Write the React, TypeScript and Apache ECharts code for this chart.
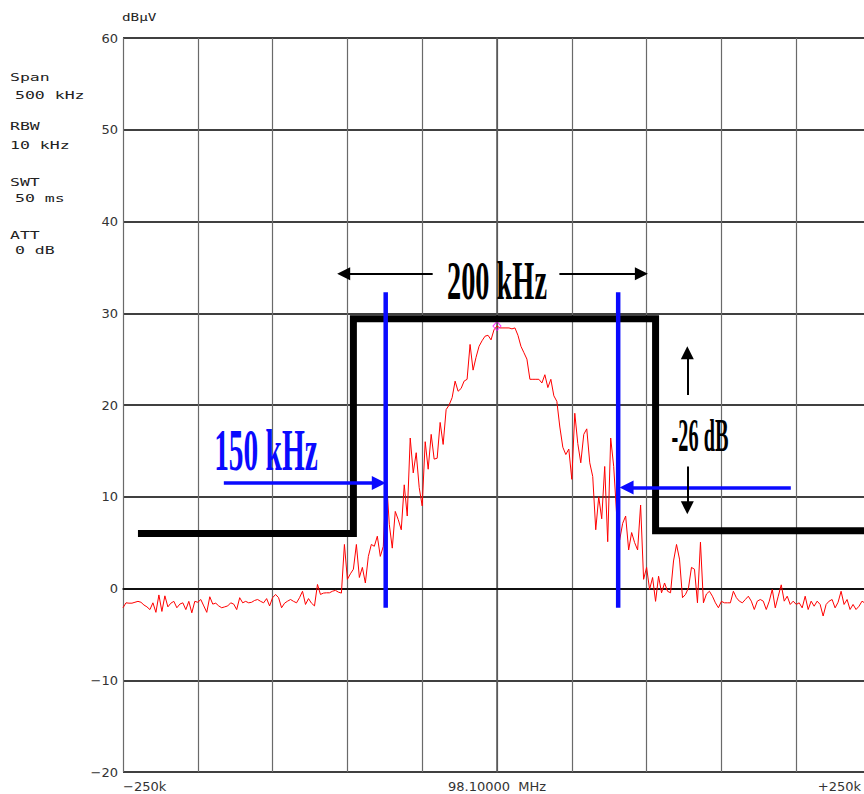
import React, { useEffect, useRef } from "react";
import * as echarts from "echarts";

// Sweep: -250 kHz .. +250 kHz around 98.1 MHz, 2 kHz per point
const sweepStartKHz = -250;
const sweepStepKHz = 2;
const traceLevels = [
  -2.1, -1.56, -1.6, -1.6, -1.5, -1.4, -1.5, -1.8, -2.0, -2.3,
  -1.56, -2.6, -0.7, -2.5, -0.8, -2.0, -1.6, -1.4, -2.1, -1.7,
  -1.56, -2.3, -1.4, -2.65, -1.4, -1.5, -1.2, -1.9, -2.6, -0.9,
  -1.7, -1.6, -1.9, -2.1, -2.0, -1.9, -1.56, -1.7, -2.3, -1.0,
  -1.56, -1.4, -1.56, -1.5, -1.3, -1.2, -1.4, -1.56, -1.1, -1.9,
  -1.0, -0.65, -1.0, -2.1, -1.6, -1.38, -1.2, -1.4, -1.56, -1.0,
  -0.3, -1.74, -1.1, -1.6, -1.9, 0.44, -0.65, -0.5, -0.47, -0.47,
  -0.3, -0.2, -0.4, -0.5, 4.8, 1.0, 1.6, 2.1, 4.8, 1.2,
  2.3, 0.6, 3.5, 4.8, 4.6, 5.7, 3.5, 4.6, 12.2, 7.0,
  4.4, 8.4, 7.5, 6.4, 11.3, 7.9, 16.4, 12.6, 14.8, 11.0,
  9.0, 16.0, 13.0, 16.8, 14.1, 14.2, 18.1, 15.7, 19.5, 20.0,
  20.8, 22.6, 21.5, 21.8, 22.6, 22.8, 26.6, 23.8, 25.2, 26.4,
  27.0, 27.5, 27.6, 27.1, 28.2, 28.6, 28.4, 28.4, 28.4, 28.4,
  28.3, 28.4, 27.6, 26.4, 25.7, 25.0, 22.8, 22.8, 22.8, 22.8,
  22.4, 23.3, 21.9, 22.8, 21.0, 20.4, 17.6, 15.4, 14.6, 15.2,
  11.9, 19.1, 15.8, 13.7, 16.8, 17.4, 13.7, 12.2, 6.4, 10.0,
  7.6, 13.3, 5.1, 16.4, 13.3, 8.0, 5.3, 7.1, 7.9, 4.2,
  6.1, 5.0, 4.2, 9.1, 1.0, 2.3, -0.1, 1.2, -1.4, 1.34,
  -0.47, 0.6, -0.3, -0.47, 3.0, 4.8, 3.2, -1.0, -0.65, 0.07,
  2.3, 2.1, -1.56, 5.05, -1.56, -0.6, -0.3, -0.84, -1.56, -2.1,
  -1.4, -1.56, -1.56, -1.56, -0.3, -1.0, -1.38, -1.56, -1.2, -0.84,
  -1.38, -2.29, -1.38, -1.2, -1.38, -2.29, -1.38, -0.1, -2.11, -0.84,
  0.4, -1.38, -0.84, -1.74, -1.38, -1.74, -1.56, -2.11, -0.84, -2.29,
  -1.38, -1.93, -1.38, -1.74, -3.0, -1.74, -1.38, -1.2, -2.11, -1.5,
  -0.3, -1.74, -1.2, -2.29, -1.74, -2.29, -1.93, -1.38, -1.6, -1.8, -1.5,
];

// Spectrum mask (kHz, dBµV)
const maskFreqs = [-240, -96, -96, 106, 106, 270];
const maskLevels = [6.0, 6.0, 29.4, 29.4, 6.3, 6.3];

// 150 kHz markers (blue verticals)
const markerFreqs = [-74.4, 81];
const markerSpan = [-2.1, 32.3];

// Peak marker
const peakFreq = 0;
const peakLevel = 28.6;

// Axis ticks
const xMin = -250, xMax = 250, xInterval = 50;
const yMin = -20, yMax = 60, yInterval = 10;
const xLabelValues = [-250, 0, 250];
const xLabelTexts = ["\u2212250k", "98.10000  MHz", "+250k"];

// Arrows [fromFreq, fromLevel, toFreq, toLevel]
const blueArrows = [
  [-182.6, 11.5, -79.0, 11.5],
  [196.4, 11.0, 86.6, 11.0],
];
const blackArrows = [
  [-43, 34.3, -102.5, 34.3],
  [41.7, 34.3, 96.5, 34.3],
  [127.2, 21.1, 127.2, 25.7],
  [127.2, 13.3, 127.2, 8.8],
];

const infoTexts = [
  ["Span", 10, 77],
  ["500 kHz", 15, 95],
  ["RBW", 10, 126],
  ["10 kHz", 10, 145],
  ["SWT", 10, 182],
  ["50 ms", 15, 198],
  ["ATT", 10, 235],
  ["0 dB", 15, 250],
];

export default function App() {
  const ref = useRef<HTMLDivElement>(null);
  useEffect(() => {
    if (!ref.current) return;
    const chart = echarts.init(ref.current, undefined, { renderer: "svg" });
    const traceData = traceLevels.map((v, i) => [sweepStartKHz + i * sweepStepKHz, v]);
    const maskData = maskFreqs.map((f, i) => [f, maskLevels[i]]);

    const plotFont = "DejaVu Sans";
    const option: any = {
      animation: false,
      grid: { left: 123, top: 38, width: 748, height: 734, containLabel: false },
      xAxis: {
        type: "value",
        min: xMin,
        max: xMax,
        interval: xInterval,
        axisLine: { show: true, lineStyle: { color: "#000", width: 1.5 } },
        axisTick: { show: false },
        splitLine: { show: true, lineStyle: { color: "#6a6a6a", width: 1.2 } },
        axisLabel: {
          show: true,
          margin: 8,
          fontFamily: plotFont,
          fontSize: 13,
          color: "#333",
          verticalAlign: "top",
          alignMinLabel: "left",
          alignMaxLabel: "right",
          showMinLabel: true,
          showMaxLabel: true,
          rich: {
            r: { fontFamily: plotFont, fontSize: 13, color: "#333", padding: [0, 10, 0, 0] },
          },
          formatter: (v: number) => {
            const k = xLabelValues.indexOf(v);
            if (k < 0) return "";
            return v === xMax ? "{r|" + xLabelTexts[k] + "}" : xLabelTexts[k];
          },
        },
      },
      yAxis: {
        type: "value",
        min: yMin,
        max: yMax,
        interval: yInterval,
        axisLine: { show: true, lineStyle: { color: "#555", width: 1.5 } },
        axisTick: { show: false },
        splitLine: { show: true, lineStyle: { color: "#000", width: 1.5 } },
        axisLabel: {
          show: true,
          margin: 5,
          fontFamily: plotFont,
          fontSize: 13,
          color: "#333",
          padding: [9, 0, 0, 0],
          formatter: (v: number) => (v < 0 ? "\u2212" + -v : String(v)),
        },
      },
      series: [
        {
          type: "line",
          data: traceData,
          symbol: "none",
          lineStyle: { color: "#ff0000", width: 1 },
          z: 3,
          silent: true,
        },
        {
          type: "scatter",
          data: [[peakFreq, peakLevel]],
          symbol: "diamond",
          symbolSize: [8, 9],
          itemStyle: { color: "rgba(0,0,0,0)", borderColor: "#ff00ff", borderWidth: 1 },
          z: 4,
          silent: true,
        },
        {
          type: "line",
          data: maskData,
          symbol: "none",
          lineStyle: { color: "#000", width: 7, join: "miter", cap: "butt" },
          z: 5,
          silent: true,
        },
        ...markerFreqs.map((f) => ({
          type: "line",
          data: [[f, markerSpan[0]], [f, markerSpan[1]]],
          symbol: "none",
          lineStyle: { color: "#0a0aff", width: 4.5 },
          z: 6,
          silent: true,
        })),
        {
          type: "lines",
          coordinateSystem: "cartesian2d",
          data: blueArrows.map((a) => ({ coords: [[a[0], a[1]], [a[2], a[3]]] })),
          symbol: ["none", "triangle"],
          symbolSize: 14,
          lineStyle: { color: "#0a0aff", width: 3.5, opacity: 1, curveness: 0 },
          z: 7,
          silent: true,
        },
        {
          type: "lines",
          coordinateSystem: "cartesian2d",
          data: blackArrows.map((a) => ({ coords: [[a[0], a[1]], [a[2], a[3]]] })),
          symbol: ["none", "triangle"],
          symbolSize: 13,
          lineStyle: { color: "#000", width: 2, opacity: 1, curveness: 0 },
          z: 7,
          silent: true,
        },
      ],
      graphic: [
        {
          type: "text",
          x: 122,
          y: 17,
          scaleX: 1.3,
          style: {
            text: "dB\u00b5V",
            fontFamily: "DejaVu Sans Mono",
            fontSize: 11,
            fill: "#222",
            verticalAlign: "middle",
            textVerticalAlign: "middle",
          },
        },
        ...infoTexts.map(([t, x, y]) => ({
          type: "text",
          x,
          y,
          scaleX: 1.5,
          style: {
            text: t,
            fontFamily: "DejaVu Sans Mono",
            fontSize: 11,
            fill: "#222",
            verticalAlign: "middle",
            textVerticalAlign: "middle",
          },
        })),
        {
          type: "text",
          x: 497,
          y: 281,
          scaleX: 0.525,
          z: 100,
          style: {
            text: "200 kHz",
            fontFamily: "Liberation Serif",
            fontWeight: "bold",
            fontSize: 54,
            fill: "#000",
            align: "center",
            textAlign: "center",
            verticalAlign: "middle",
            textVerticalAlign: "middle",
          },
        },
        {
          type: "text",
          x: 266,
          y: 450,
          scaleX: 0.49,
          z: 100,
          style: {
            text: "150 kHz",
            fontFamily: "Liberation Serif",
            fontWeight: "bold",
            fontSize: 60,
            fill: "#0a0aff",
            align: "center",
            textAlign: "center",
            verticalAlign: "middle",
            textVerticalAlign: "middle",
          },
        },
        {
          type: "text",
          x: 700,
          y: 435,
          scaleX: 0.44,
          z: 100,
          style: {
            text: "-26 dB",
            fontFamily: "Liberation Serif",
            fontWeight: "bold",
            fontSize: 46,
            fill: "#000",
            align: "center",
            textAlign: "center",
            verticalAlign: "middle",
            textVerticalAlign: "middle",
          },
        },
      ],
    };
    chart.setOption(option);
    return () => chart.dispose();
  }, []);
  return (
    <div
      style={{
        position: "fixed",
        left: 0,
        top: 0,
        width: 864,
        height: 794,
        overflow: "hidden",
        background: "#fff",
      }}
    >
      <div ref={ref} style={{ width: 880, height: 794 }} />
    </div>
  );
}
